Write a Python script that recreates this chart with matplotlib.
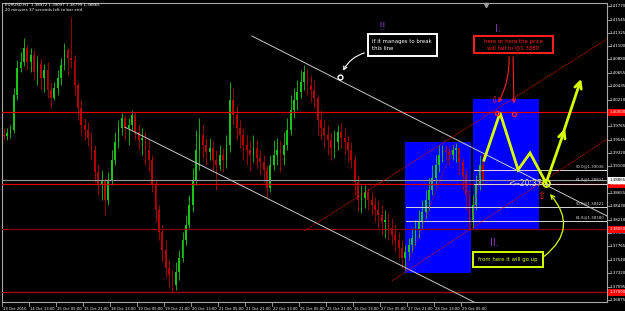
import matplotlib
matplotlib.use("Agg")
import matplotlib.pyplot as plt
from matplotlib.patches import Rectangle
import matplotlib.transforms as mtransforms

# ---------------- data (EURUSD H1, aggregated to 2-hour candles) ----------------
bar_hours = 2
open_first = 1.3962
close = [1.3960, 1.3965, 1.3970, 1.4029, 1.4074, 1.4084, 1.4107, 1.4084, 1.4095, 1.4067,
         1.4080, 1.4057, 1.4070, 1.4037, 1.4024, 1.4040, 1.4057, 1.4079, 1.4104, 1.4090,
         1.4087, 1.4045, 1.4007, 1.3979, 1.3970, 1.3957, 1.3937, 1.3900, 1.3879, 1.3887,
         1.3854, 1.3887, 1.3920, 1.3950, 1.3974, 1.3990, 1.3974, 1.3979, 1.3995, 1.3967,
         1.3954, 1.3957, 1.3937, 1.3920, 1.3879, 1.3837, 1.3800, 1.3770, 1.3740, 1.3729,
         1.3712, 1.3734, 1.3757, 1.3787, 1.3812, 1.3845, 1.3887, 1.3937, 1.3962, 1.3945,
         1.3934, 1.3940, 1.3920, 1.3912, 1.3929, 1.3920, 1.3945, 1.4020, 1.3995, 1.3974,
         1.3962, 1.3945, 1.3937, 1.3929, 1.3940, 1.3924, 1.3917, 1.3904, 1.3874, 1.3912,
         1.3929, 1.3937, 1.3929, 1.3945, 1.3970, 1.4004, 1.4020, 1.4034, 1.4050, 1.4067,
         1.4045, 1.4037, 1.4024, 1.3987, 1.3974, 1.3962, 1.3954, 1.3940, 1.3950, 1.3967,
         1.3957, 1.3950, 1.3937, 1.3920, 1.3884, 1.3854, 1.3857, 1.3867, 1.3854, 1.3845,
         1.3837, 1.3829, 1.3817, 1.3820, 1.3807, 1.3795, 1.3787, 1.3774, 1.3757, 1.3767,
         1.3779, 1.3790, 1.3804, 1.3817, 1.3834, 1.3854, 1.3870, 1.3890, 1.3912, 1.3929,
         1.3937, 1.3934, 1.3929, 1.3937, 1.3940, 1.3917, 1.3895, 1.3862, 1.3820, 1.3845,
         1.3879, 1.3912, 1.38865]
high = [1.3974, 1.3974, 1.3979, 1.4040, 1.4087, 1.4100, 1.4124, 1.4112, 1.4107, 1.4104,
        1.4094, 1.4090, 1.4080, 1.4084, 1.4050, 1.4050, 1.4070, 1.4090, 1.4115, 1.4107,
        1.4159, 1.4095, 1.4050, 1.4020, 1.3990, 1.3984, 1.3967, 1.3945, 1.3912, 1.3904,
        1.3890, 1.3900, 1.3937, 1.3967, 1.3987, 1.3999, 1.3995, 1.3990, 1.4004, 1.4000,
        1.3979, 1.3974, 1.3967, 1.3954, 1.3929, 1.3887, 1.3845, 1.3812, 1.3787, 1.3754,
        1.3737, 1.3750, 1.3770, 1.3800, 1.3829, 1.3862, 1.3907, 1.3970, 1.3990, 1.3979,
        1.3957, 1.3957, 1.3954, 1.3937, 1.3945, 1.3940, 1.3962, 1.4050, 1.4040, 1.4012,
        1.3987, 1.3974, 1.3962, 1.3954, 1.3962, 1.3954, 1.3937, 1.3929, 1.3912, 1.3929,
        1.3954, 1.3957, 1.3954, 1.3967, 1.3990, 1.4029, 1.4040, 1.4054, 1.4070, 1.4079,
        1.4074, 1.4062, 1.4054, 1.4029, 1.4004, 1.3987, 1.3979, 1.3967, 1.3970, 1.3979,
        1.3982, 1.3974, 1.3962, 1.3950, 1.3929, 1.3895, 1.3879, 1.3879, 1.3874, 1.3867,
        1.3857, 1.3854, 1.3845, 1.3837, 1.3834, 1.3824, 1.3812, 1.3800, 1.3787, 1.3779,
        1.3790, 1.3807, 1.3820, 1.3837, 1.3854, 1.3870, 1.3890, 1.3912, 1.3929, 1.3945,
        1.3945, 1.3945, 1.3942, 1.3945, 1.3949, 1.3940, 1.3924, 1.3904, 1.3870, 1.3862,
        1.3895, 1.3929, 1.3932]
low = [1.3954, 1.3954, 1.3957, 1.3965, 1.4020, 1.4067, 1.4077, 1.4070, 1.4067, 1.4054,
       1.4045, 1.4037, 1.4034, 1.4024, 1.4007, 1.4020, 1.4029, 1.4045, 1.4070, 1.4062,
       1.4074, 1.4029, 1.3987, 1.3962, 1.3954, 1.3944, 1.3920, 1.3884, 1.3862, 1.3854,
       1.3829, 1.3845, 1.3879, 1.3912, 1.3940, 1.3962, 1.3954, 1.3945, 1.3970, 1.3954,
       1.3937, 1.3929, 1.3912, 1.3900, 1.3867, 1.3817, 1.3787, 1.3750, 1.3724, 1.3707,
       1.3699, 1.3704, 1.3720, 1.3750, 1.3779, 1.3807, 1.3834, 1.3879, 1.3904, 1.3924,
       1.3912, 1.3920, 1.3900, 1.3870, 1.3904, 1.3900, 1.3907, 1.3934, 1.3979, 1.3954,
       1.3940, 1.3920, 1.3912, 1.3904, 1.3917, 1.3907, 1.3895, 1.3884, 1.3857, 1.3867,
       1.3904, 1.3912, 1.3900, 1.3912, 1.3937, 1.3962, 1.3990, 1.4004, 1.4024, 1.4037,
       1.4029, 1.4017, 1.4007, 1.3962, 1.3954, 1.3940, 1.3929, 1.3920, 1.3924, 1.3937,
       1.3940, 1.3929, 1.3917, 1.3907, 1.3862, 1.3834, 1.3832, 1.3840, 1.3837, 1.3829,
       1.3817, 1.3807, 1.3795, 1.3790, 1.3787, 1.3779, 1.3767, 1.3757, 1.3740, 1.3737,
       1.3754, 1.3767, 1.3779, 1.3790, 1.3807, 1.3824, 1.3837, 1.3862, 1.3879, 1.3900,
       1.3917, 1.3920, 1.3912, 1.3920, 1.3917, 1.3895, 1.3870, 1.3837, 1.3804, 1.3807,
       1.3837, 1.3870, 1.3879]

time_labels = ["13 Oct 2010", "14 Oct 13:00", "15 Oct 05:00", "15 Oct 21:00", "18 Oct 13:00",
               "19 Oct 05:00", "19 Oct 21:00", "20 Oct 13:00", "21 Oct 05:00", "21 Oct 21:00",
               "22 Oct 13:00", "25 Oct 05:00", "25 Oct 21:00", "26 Oct 13:00", "27 Oct 05:00",
               "27 Oct 21:00", "28 Oct 13:00", "29 Oct 05:00"]
label_step_hours = 16
price_ticks = [1.41770, 1.41545, 1.41325, 1.41100, 1.40880, 1.40655, 1.40435, 1.40210,
               1.39765, 1.39545, 1.39320, 1.39100, 1.38655, 1.38430, 1.38210,
               1.37985, 1.37765, 1.37540, 1.37320, 1.37095, 1.36875]

hline_prices = [1.40000, 1.38800, 1.38050, 1.37000]
hline_colors = ["#dd0000", "#dd0000", "#8a0000", "#b00000"]
bid_price = 1.38865

# fib levels (label, price, start hour)
fib_labels = ["50.0@1.39036", "61.8@1.38811", "50.0@1.38421", "61.8@1.38180"]
fib_prices = [1.39036, 1.38811, 1.38421, 1.38180]
fib_start = [279.7, 279.7, 239.4, 239.4]

# drawn objects (hour, price)
trend_white_1 = ([148.1, 358.5], [1.4127, 1.3827])
trend_white_2 = ([72.9, 300.0], [1.3975, 1.3655])
ray_red_A = ([179.0, 358.5], [1.3802, 1.4122])
ray_red_B = ([231.1, 358.5], [1.3719, 1.3955])
dot_red_1 = ([238.8, 268.4], [1.3737, 1.3949])
dot_red_2 = ([277.3, 285.6], [1.3804, 1.3929])
box1 = (238.8, 277.9, 1.3732, 1.3950)
box2 = (279.1, 318.2, 1.3805, 1.4022)
red_note_box = (279.7, 326.5, 1.4099, 1.4127)
zigzag_h = [285.6, 295.1, 305.8, 312.9, 322.4]
zigzag_p = [1.3920, 1.3999, 1.3904, 1.3932, 1.3882]

# ---------------- figure ----------------
W, H = 625, 311
fig = plt.figure(figsize=(W / 100, H / 100), dpi=100, facecolor="black")
ax = fig.add_axes([2 / W, 9 / H, 605 / W, 299 / H], facecolor="black")
ax.set_xlim(0, 358.5)
ax.set_ylim(1.36837, 1.4182)
ax.set_xticks([])
ax.set_yticks([])
for s in ax.spines.values():
    s.set_color("#a8a8a8")
    s.set_linewidth(0.8)

bull = "#19c419"
bear = "#b40000"
blue = "#0000ff"
yellow = "#d8ff00"

# blue rectangles (background objects)
for (x0, x1, p0, p1) in (box1, box2):
    ax.add_patch(Rectangle((x0, p0), x1 - x0, p1 - p0, facecolor=blue, edgecolor="none", zorder=1))

# candles
opens = [open_first] + close[:-1]
for k, (o, h, l, c) in enumerate(zip(opens, high, low, close)):
    x = bar_hours * k + bar_hours / 2
    col = bull if c >= o else bear
    hi = max(h, o, c)
    lo = min(l, o, c)
    ax.vlines(x, lo, hi, color=col, lw=0.6, zorder=3)
    ax.add_patch(Rectangle((x - 0.55, min(o, c)), 1.1, max(abs(c - o), 0.00006),
                           facecolor=col, edgecolor="none", zorder=3))

# horizontal lines
ax.axhline(bid_price, color="#9a9a9a", lw=0.8, zorder=4)
for p, col in zip(hline_prices, hline_colors):
    ax.axhline(p, color=col, lw=0.9, zorder=4)

# fib lines
for lab, p, x0 in zip(fib_labels, fib_prices, fib_start):
    ax.plot([x0, 358.5], [p, p], color="#d8d8d8", lw=0.7, zorder=4)
    ax.text(357.0, p + 0.0003, lab, color="#d8d8d8", fontsize=2.8, ha="right", va="bottom", zorder=5)

# trend lines
ax.plot(*trend_white_1, color="#c8c8c8", lw=0.7, zorder=4)
ax.plot(*trend_white_2, color="#c8c8c8", lw=0.7, zorder=4)
ax.plot(*ray_red_A, color="#dd0000", lw=0.6, ls=(0, (1.5, 1)), zorder=4)
ax.plot(*ray_red_B, color="#dd0000", lw=0.6, ls=(0, (1.5, 1)), zorder=4)
ax.plot(*dot_red_1, color="#dd0000", lw=0.6, ls=(0, (1, 1)), zorder=4)
ax.plot(*dot_red_2, color="#dd0000", lw=0.6, ls=(0, (1, 1)), zorder=4)

# yellow projected path
ax.plot(zigzag_h, zigzag_p, color=yellow, lw=2.0, zorder=6, solid_joinstyle="miter")
ax.annotate("", xy=(334.2, 1.3977), xytext=(322.4, 1.3882),
            arrowprops=dict(arrowstyle="->", color=yellow, lw=2.0, mutation_scale=12), zorder=6)
ax.annotate("", xy=(343.7, 1.4060), xytext=(331.9, 1.3960),
            arrowprops=dict(arrowstyle="->", color=yellow, lw=2.0, mutation_scale=12), zorder=6)

# countdown text and marker
ax.text(299.9, 1.3882, "<--20:37", color="#d0d0d0", fontsize=5.5, ha="left", va="center", zorder=6)
ax.plot([322.4], [1.3882], marker="o", ms=5, mfc="none", mec=yellow, mew=1.3, zorder=7)
ax.text(319.4, 1.3861, "\u21e7", color="#ff2020", fontsize=7, ha="center", va="center", zorder=7)

# yellow box and arrow
ax.text(299.9, 1.3755, "from here it will go up", color=yellow, fontsize=3.9, ha="center", va="center",
        zorder=8, bbox=dict(boxstyle="square,pad=0.9", fc="black", ec=yellow, lw=1.4))
ax.annotate("", xy=(323.6, 1.3867), xytext=(320.0, 1.3757),
            arrowprops=dict(arrowstyle="->", color=yellow, lw=0.9, mutation_scale=7,
                            connectionstyle="arc3,rad=0.55"), zorder=8)
ax.text(291.6, 1.3782, "II.", color="#8a3cc8", fontsize=7, ha="center", va="center", zorder=8)

# white box with arrow
ax.text(219.5, 1.4112, "if it manages to break\nthis line", color="white", fontsize=3.9, ha="left",
        va="center", linespacing=1.5, zorder=8,
        bbox=dict(boxstyle="square,pad=0.9", fc="black", ec="white", lw=1.4))
ax.plot([200.3], [1.4059], marker="o", ms=3.5, mfc="none", mec="white", mew=1.0, zorder=8)
ax.annotate("", xy=(201.5, 1.4065), xytext=(216.3, 1.4100),
            arrowprops=dict(arrowstyle="->", color="white", lw=0.8, mutation_scale=6,
                            connectionstyle="arc3,rad=0.25"), zorder=8)
ax.text(225.2, 1.4142, "!!", color="#8a3cc8", fontsize=7, ha="center", va="center", zorder=8)

# red box with arrows
rx0, rx1, rp0, rp1 = red_note_box
ax.add_patch(Rectangle((rx0, rp0), rx1 - rx0, rp1 - rp0, facecolor="black", edgecolor="#ff2020",
                       lw=1.4, zorder=8))
ax.text((rx0 + rx1) / 2, (rp0 + rp1) / 2, "here or here the price\nwill fall to @1.3880", color="#ff2020",
        fontsize=3.9, ha="center", va="center", linespacing=1.4, zorder=9)
ax.text(293.9, 1.4139, "I.", color="#8a3cc8", fontsize=7, ha="center", va="center", zorder=8)
ax.annotate("", xy=(293.3, 1.4012), xytext=(300.4, 1.4097),
            arrowprops=dict(arrowstyle="->", color="#ff2020", lw=0.8, mutation_scale=6,
                            connectionstyle="arc3,rad=-0.15"), zorder=8)
ax.annotate("", xy=(303.4, 1.4010), xytext=(302.8, 1.4097),
            arrowprops=dict(arrowstyle="->", color="#ff2020", lw=0.8, mutation_scale=6), zorder=8)
ax.text(291.6, 1.4018, "\u21e9", color="#ff2020", fontsize=6.5, ha="center", va="center", zorder=8)
ax.plot([293.3, 303.4], [1.3999, 1.3997], ls="none", marker="o", ms=3, mfc="none",
        mec="#ff2020", mew=1.0, zorder=8)

# chart shift marker
ax.plot([286.8], [1.4179], marker="v", ms=3, color="#a0a0a0", zorder=9, clip_on=False)

# ---------------- axes labels ----------------
trans_y = mtransforms.blended_transform_factory(ax.transAxes, ax.transData)
for v in price_ticks:
    ax.plot([1.0, 1.005], [v, v], color="#a8a8a8", lw=0.6, transform=trans_y, clip_on=False)
    ax.text(1.004, v, f"{v:.5f}", color="white", fontsize=2.9, ha="left", va="center",
            transform=trans_y, clip_on=False)
for p in hline_prices:
    ax.text(1.004, p, f"{p:.5f}", color="white", fontsize=2.9, ha="left", va="center",
            transform=trans_y, clip_on=False,
            bbox=dict(boxstyle="square,pad=0.35", fc="#ff0000", ec="none"))
ax.text(1.004, bid_price, f"{bid_price:.5f}", color="black", fontsize=2.9, ha="left", va="center",
        transform=trans_y, clip_on=False,
        bbox=dict(boxstyle="square,pad=0.35", fc="white", ec="none"))

trans_x = mtransforms.blended_transform_factory(ax.transData, ax.transAxes)
for j, lab in enumerate(time_labels):
    xh = j * label_step_hours
    ax.plot([xh, xh], [0, -0.012], color="#a8a8a8", lw=0.6, transform=trans_x, clip_on=False)
    ax.text(xh + 0.8, -0.016, lab, color="white", fontsize=2.7, ha="left", va="top",
            transform=trans_x, clip_on=False)

# header
fig.text(5 / W, 1 - 5 / H, "EURUSD,H1  1.38972 1.39097 1.38799 1.38865", color="white",
         fontsize=2.9, ha="left", va="center")
fig.text(5 / W, 1 - 10 / H, "20 minutes 37 seconds left to bar end", color="white",
         fontsize=2.9, ha="left", va="center")

fig.savefig("out.png", dpi=100, facecolor="black")
